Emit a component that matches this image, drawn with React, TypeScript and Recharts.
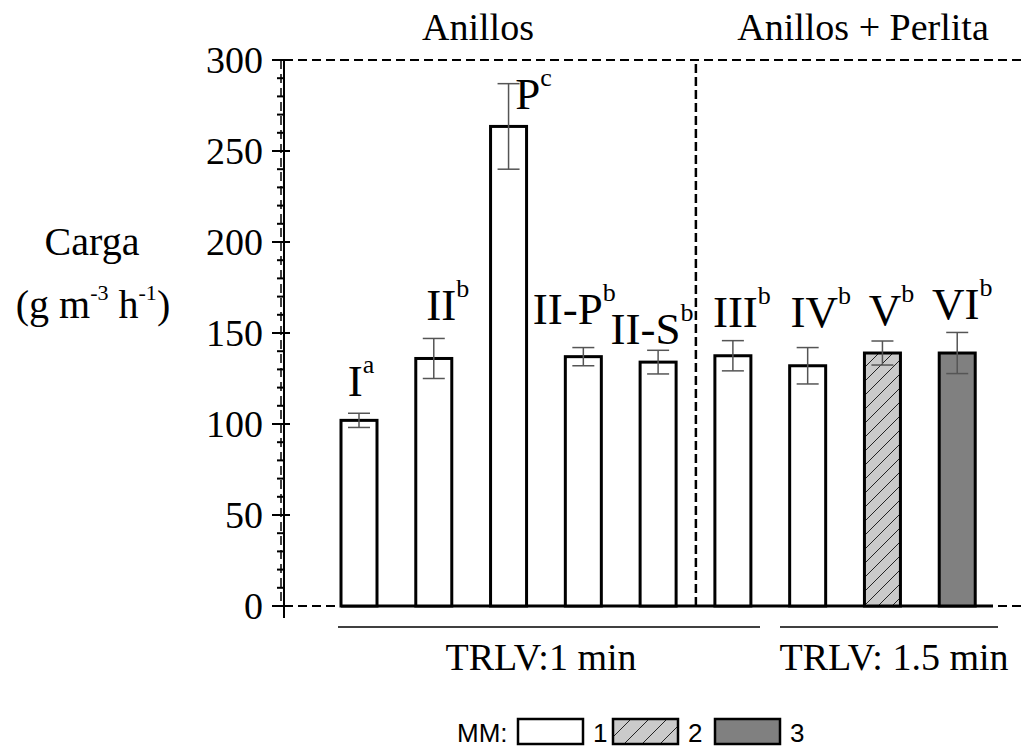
import React from 'react';
import { BarChart, Bar, XAxis, YAxis, ErrorBar, ReferenceLine } from 'recharts';

const CATEGORIES = ['I', 'II', 'P', 'II-P', 'II-S', 'III', 'IV', 'V', 'VI'];
const CARGA = [102, 136, 263.5, 137, 134, 137.5, 132, 139, 139];
const DESV = [3.9, 11, 23.5, 5, 6.5, 8.3, 10, 6.6, 11.3];
const LETRAS = ['a', 'b', 'c', 'b', 'b', 'b', 'b', 'b', 'b'];
const MM = [1, 1, 1, 1, 1, 1, 1, 2, 3];
const MM_KEYS = [1, 2, 3];
const Y_TICKS = [
  0, 10, 20, 30, 40, 50, 60, 70, 80, 90, 100, 110, 120, 130, 140, 150,
  160, 170, 180, 190, 200, 210, 220, 230, 240, 250, 260, 270, 280, 290, 300,
];

const data = CATEGORIES.map((name, i) => ({
  name,
  carga: CARGA[i],
  desv: DESV[i],
  letra: LETRAS[i],
  mm: MM[i],
}));

const SERIF = "'Liberation Serif', 'Times New Roman', serif";
const SANS = "'Liberation Sans', Arial, sans-serif";

const W = 1021;
const H = 751;
const TOP = 60;
const BOTTOM = 606;
const LEFT = 284;

const FILL: Record<number, string> = {
  1: '#ffffff',
  2: 'url(#mm2)',
  3: '#808080',
};

// hand placement of the letter labels above each bar
const NUDGE: Record<string, { dx: number; dy: number }> = {
  I: { dx: 2, dy: 1 },
  II: { dx: 14, dy: 0 },
  P: { dx: 25, dy: 43 },
  'II-P': { dx: -9, dy: -6 },
  'II-S': { dx: -6, dy: 12 },
  III: { dx: 9, dy: 4 },
  IV: { dx: 13, dy: -3 },
  V: { dx: 9, dy: 2 },
  VI: { dx: 5, dy: 5 },
};

function BarShape(props: any) {
  const { x, y, width, height, payload } = props;
  const pxPerUnit = height / payload.carga;
  const errTop = y - payload.desv * pxPerUnit;
  const n = NUDGE[payload.name] || { dx: 0, dy: 0 };
  const cx = x + width / 2 + n.dx;
  const by = errTop - 18 + n.dy;
  return (
    <g>
      <rect x={x} y={y} width={width} height={height} fill={FILL[payload.mm]} stroke="#000" strokeWidth={3} />
      <text x={cx} y={by} textAnchor="middle" fontFamily={SERIF} fontSize={45} fill="#000">
        {payload.name}
        <tspan dy={-23} fontSize={26}>{payload.letra}</tspan>
      </text>
    </g>
  );
}

function YTick(props: any) {
  const { x, y, payload } = props;
  const major = payload.value % 50 === 0;
  return (
    <g>
      <line x1={x - (major ? 12 : 7)} x2={x + (major ? 6 : 0)} y1={y} y2={y} stroke="#000" strokeWidth={2} />
      {major && (
        <text x={x - 21} y={y} dy="0.35em" textAnchor="end" fontFamily={SERIF} fontSize={38} fill="#000">
          {payload.value}
        </text>
      )}
    </g>
  );
}

export default function App() {
  return (
    <div style={{ position: 'absolute', left: 0, top: 0, width: W, height: H, background: '#fff' }}>
      <BarChart width={W} height={H} data={data} margin={{ top: TOP, right: 0, bottom: H - BOTTOM, left: 0 }}>
        <defs>
          <pattern id="mm2" patternUnits="userSpaceOnUse" width={14} height={14}>
            <rect width={14} height={14} fill="#cacaca" />
            <path d="M0,14 L14,0 M-3.5,3.5 L3.5,-3.5 M10.5,17.5 L17.5,10.5" stroke="#222" strokeWidth={1} />
          </pattern>
          <pattern id="mm2-leg" patternUnits="userSpaceOnUse" width={18} height={18}>
            <rect width={18} height={18} fill="#cacaca" />
            <path d="M0,18 L18,0 M-4.5,4.5 L4.5,-4.5 M13.5,22.5 L22.5,13.5" stroke="#222" strokeWidth={1} />
          </pattern>
        </defs>
        <XAxis dataKey="name" hide padding={{ left: 38, right: 26 }} />
        <YAxis
          width={LEFT}
          domain={[0, 300]}
          ticks={Y_TICKS}
          interval={0}
          tick={<YTick />}
          tickLine={false}
          tickSize={0}
          tickMargin={0}
          axisLine={{ stroke: '#000', strokeWidth: 2 }}
        />
        <ReferenceLine y={300} stroke="#000" strokeWidth={2} strokeDasharray="9 5" />
        <ReferenceLine y={0} stroke="#000" strokeWidth={2} strokeDasharray="9 5" />
        <ReferenceLine x="II-S" position="end" stroke="#000" strokeWidth={2.5} strokeDasharray="9 4" />
        <Bar dataKey="carga" barSize={36} shape={BarShape} isAnimationActive={false}>
          <ErrorBar dataKey="desv" width={11} stroke="#555" strokeWidth={1.5} isAnimationActive={false} />
        </Bar>

        {/* frame, group bars and annotations */}
        <g>
          <line x1={281} x2={281} y1={TOP} y2={BOTTOM} stroke="#000" strokeWidth={1.5} strokeDasharray="9 5" />
          <line x1={341} x2={993} y1={BOTTOM} y2={BOTTOM} stroke="#000" strokeWidth={3} />
          <line x1={LEFT} x2={LEFT} y1={BOTTOM} y2={618} stroke="#000" strokeWidth={2} />

          <text x={478} y={40} textAnchor="middle" fontFamily={SERIF} fontSize={38}>Anillos</text>
          <text x={863} y={40} textAnchor="middle" fontFamily={SERIF} fontSize={38}>Anillos + Perlita</text>

          <line x1={338} x2={760} y1={627} y2={627} stroke="#000" strokeWidth={1.5} />
          <line x1={780} x2={998} y1={627} y2={627} stroke="#000" strokeWidth={1.5} />
          <text x={541} y={670} textAnchor="middle" fontFamily={SERIF} fontSize={38}>TRLV:1 min</text>
          <text x={894} y={670} textAnchor="middle" fontFamily={SERIF} fontSize={38}>TRLV: 1.5 min</text>

          <text x={92} y={255} textAnchor="middle" fontFamily={SERIF} fontSize={40}>Carga</text>
          <text x={93} y={318} textAnchor="middle" fontFamily={SERIF} fontSize={40}>
            (g m<tspan dy={-18} fontSize={22}>-3</tspan>
            <tspan dy={18} fontSize={40}> h</tspan>
            <tspan dy={-18} fontSize={22}>-1</tspan>
            <tspan dy={18} fontSize={40}>)</tspan>
          </text>

          <text x={457} y={742} fontFamily={SANS} fontSize={26}>MM:</text>
          {MM_KEYS.map((k, i) => {
            const bx = [518, 613, 715][i];
            return (
              <g key={k}>
                <rect x={bx} y={719} width={65} height={25} fill={k === 2 ? 'url(#mm2-leg)' : FILL[k]} stroke="#000" strokeWidth={2.5} />
                <text x={bx + 75} y={742} fontFamily={SANS} fontSize={26}>{k}</text>
              </g>
            );
          })}
        </g>
      </BarChart>
    </div>
  );
}
